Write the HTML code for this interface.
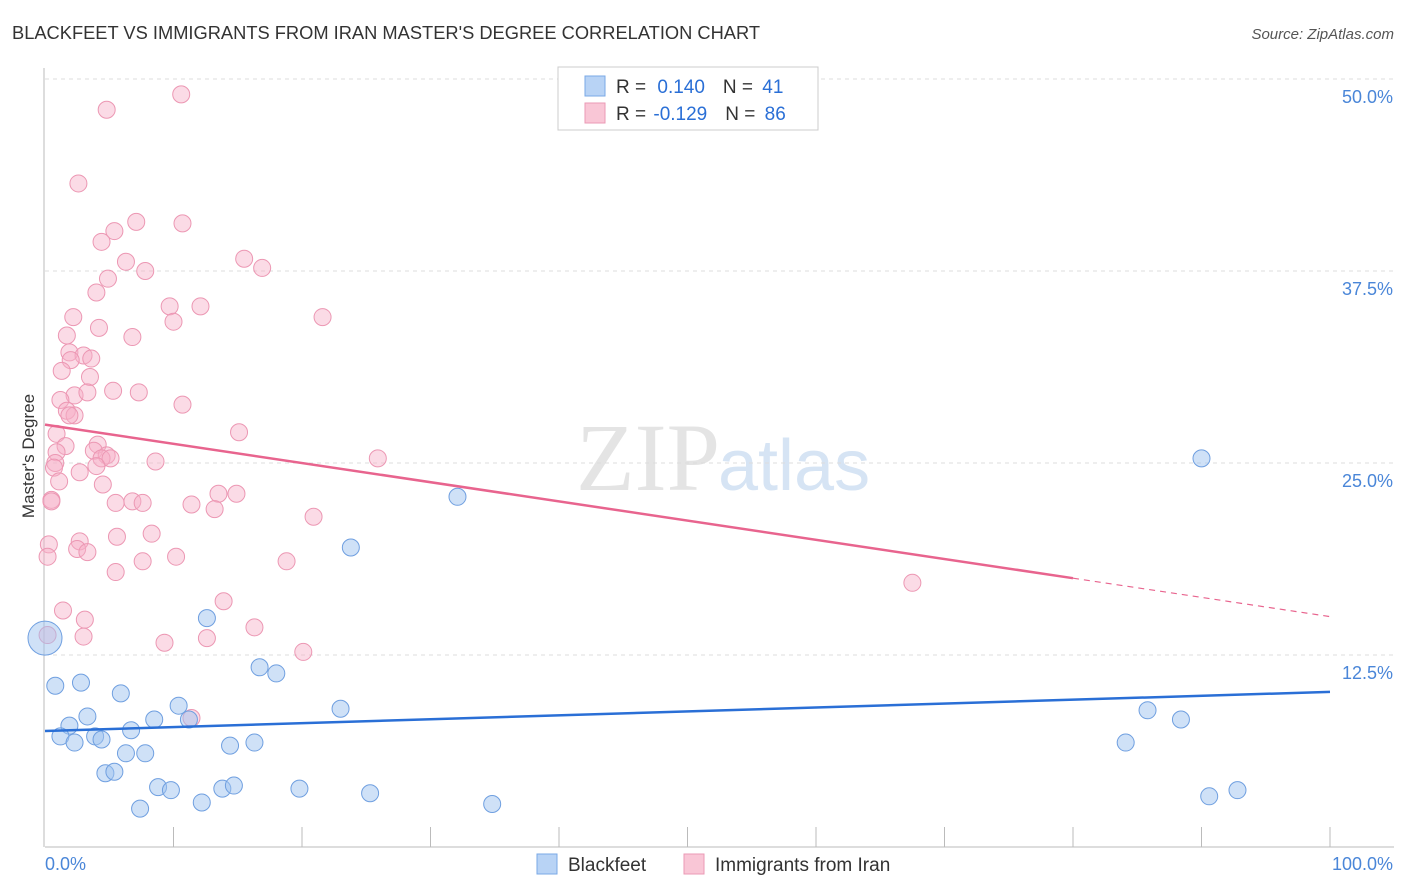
<!DOCTYPE html>
<html><head><meta charset="utf-8"><style>
body{margin:0;background:#fff;font-family:"Liberation Sans",sans-serif}
svg{display:block}
</style></head><body>
<svg id="c" width="1406" height="892" xmlns="http://www.w3.org/2000/svg">
<text x="12" y="39" font-size="18.3" fill="#333">BLACKFEET VS IMMIGRANTS FROM IRAN MASTER'S DEGREE CORRELATION CHART</text>
<text x="1394" y="39" font-size="15" fill="#555" text-anchor="end" font-style="italic">Source: ZipAtlas.com</text>
<text x="720" y="490" font-size="96" fill="#e4e4e4" text-anchor="end" font-family="Liberation Serif,serif">ZIP</text>
<text x="718" y="490" font-size="72" fill="#d6e4f4">atlas</text>
<text transform="translate(34,456) rotate(-90)" font-size="17" fill="#333" text-anchor="middle">Master's Degree</text>
<g id="grid"></g><g id="marks"></g><g id="lines"></g>
<g>
<rect x="558" y="67" width="260" height="63" fill="#fff" stroke="#ccc"/>
<rect x="585" y="76" width="20" height="20" fill="#b8d3f5" stroke="#7aa8e6"/>
<rect x="585" y="103" width="20" height="20" fill="#f9c6d6" stroke="#eb9ab5"/>
<text x="616" y="93" font-size="19" fill="#333">R = <tspan fill="#2a6fd6" dx="6">0.140</tspan><tspan dx="18" fill="#333">N = </tspan><tspan fill="#2a6fd6" dx="4">41</tspan></text>
<text x="616" y="120" font-size="19" fill="#333">R = <tspan fill="#2a6fd6" dx="2">-0.129</tspan><tspan dx="18" fill="#333">N = </tspan><tspan fill="#2a6fd6" dx="4">86</tspan></text>
</g>
<g>
<rect x="537" y="854" width="20" height="20" fill="#b8d3f5" stroke="#7aa8e6"/>
<text x="568" y="871" font-size="19" fill="#333">Blackfeet</text>
<rect x="684" y="854" width="20" height="20" fill="#f9c6d6" stroke="#eb9ab5"/>
<text x="715" y="871" font-size="19" fill="#333">Immigrants from Iran</text>
</g>
</svg>
<script>
const yTicks=[12.5,25,37.5,50];
const yTickLabels=["12.5%","25.0%","37.5%","50.0%"];
const xTickLabels=["0.0%","100.0%"];
const blueX=[0,0.8,2.8,1.9,1.2,2.3,3.3,3.9,4.4,5.9,6.7,4.7,5.4,6.3,7.8,8.5,7.4,8.8,9.8,10.4,11.2,12.2,12.6,13.8,14.7,14.4,16.3,16.7,18.0,19.8,23.0,23.8,25.3,32.1,34.8,84.1,85.8,88.4,90.0,90.6,92.8];
const blueY=[13.6,10.5,10.7,7.9,7.2,6.8,8.5,7.2,7.0,10.0,7.6,4.8,4.9,6.1,6.1,8.3,2.5,3.9,3.7,9.2,8.3,2.9,14.9,3.8,4.0,6.6,6.8,11.7,11.3,3.8,9.0,19.5,3.5,22.8,2.8,6.8,8.9,8.3,25.3,3.3,3.7];
const pinkX=[10.6,4.8,2.6,7.1,10.7,5.4,4.4,15.5,6.3,16.9,7.8,4.9,4.0,9.7,12.1,21.6,2.2,10.0,4.2,1.7,6.8,1.9,3.0,3.6,2.0,1.3,3.5,5.3,7.3,2.3,3.3,1.2,10.7,1.7,2.3,1.9,0.9,15.1,1.6,4.1,3.8,0.9,4.8,4.4,5.1,25.9,0.8,8.6,0.7,4.0,2.7,1.1,4.5,13.5,14.9,0.5,0.5,5.5,6.8,7.6,11.4,13.2,20.9,5.6,8.3,0.3,2.7,2.5,3.3,0.2,10.2,7.6,18.8,5.5,67.5,13.9,1.4,3.1,16.3,3.0,0.2,9.3,12.6,20.1,11.4];
const pinkY=[49.0,48.0,43.2,40.7,40.6,40.1,39.4,38.3,38.1,37.7,37.5,37.0,36.1,35.2,35.2,34.5,34.5,34.2,33.8,33.3,33.2,32.2,32.0,31.8,31.7,31.0,30.6,29.7,29.6,29.4,29.6,29.1,28.8,28.4,28.1,28.1,26.9,27.0,26.1,26.2,25.8,25.7,25.5,25.3,25.3,25.3,25.0,25.1,24.7,24.8,24.4,23.8,23.6,23.0,23.0,22.6,22.5,22.4,22.5,22.4,22.3,22.0,21.5,20.2,20.4,19.7,19.9,19.4,19.2,18.9,18.9,18.6,18.6,17.9,17.2,16.0,15.4,14.8,14.3,13.7,13.8,13.3,13.6,12.7,8.4];
const blueTrend=[7.55,10.1];
const pinkTrend=[27.5,15.0];
const pinkSolidEnd=80;
const NS="http://www.w3.org/2000/svg";
const X=v=>45+v*12.85, Y=v=>847-v*15.36;
function mk(t,a,p){const e=document.createElementNS(NS,t);for(const k in a)e.setAttribute(k,a[k]);p.appendChild(e);return e;}
const grid=document.getElementById('grid'),marks=document.getElementById('marks'),lines=document.getElementById('lines');
yTicks.forEach((t,i)=>{
 const g=mk('line',{x1:45,x2:1394,y1:Y(t),y2:Y(t),stroke:'#ddd','stroke-dasharray':'4,4'},grid);
 
 
 const l=mk('text',{x:1393,y:Y(t)+24,'font-size':18,fill:'#4a86d8','text-anchor':'end'},grid);
 l.textContent=yTickLabels[i];
 
 
});
const ax=mk('line',{x1:45,x2:1394,y1:847,y2:847,stroke:'#bbb'},grid);


const ay=mk('line',{x1:44,x2:44,y1:68,y2:847,stroke:'#bbb'},grid);


for(let i=1;i<=10;i++){const tk=mk('line',{x1:X(i*10),x2:X(i*10),y1:827,y2:847,stroke:'#bbb'},grid);
 
 }
[[0,'start',45],[1,'end',1393]].forEach(([i,a,x])=>{const t=mk('text',{x:x,y:870,'font-size':18,fill:'#4a86d8','text-anchor':a},grid);t.textContent=xTickLabels[i];
 
 });
pinkX.forEach((x,i)=>{const c=mk('circle',{cx:X(x),cy:Y(pinkY[i]),r:8.5,fill:'rgba(246,176,199,0.45)',stroke:'#ec97b3','stroke-width':1},marks);
 
 });
blueX.forEach((x,i)=>{const c=mk('circle',{cx:X(x),cy:Y(blueY[i]),r:i===0?17:8.5,fill:'rgba(160,196,240,0.5)',stroke:'#6f9fe0','stroke-width':1},marks);
 
 });
const pAt=v=>pinkTrend[0]+(pinkTrend[1]-pinkTrend[0])*v/100;
const pl=mk('line',{x1:X(0),y1:Y(pinkTrend[0]),x2:X(pinkSolidEnd),y2:Y(pAt(pinkSolidEnd)),stroke:'#e8648e','stroke-width':2.5},lines);


const pd=mk('line',{x1:X(pinkSolidEnd),y1:Y(pAt(pinkSolidEnd)),x2:X(100),y2:Y(pinkTrend[1]),stroke:'#e8648e','stroke-width':1.2,'stroke-dasharray':'6,5'},lines);


const bl=mk('line',{x1:X(0),y1:Y(blueTrend[0]),x2:X(100),y2:Y(blueTrend[1]),stroke:'#2a6fd6','stroke-width':2.5},lines);


</script>
</body></html>
